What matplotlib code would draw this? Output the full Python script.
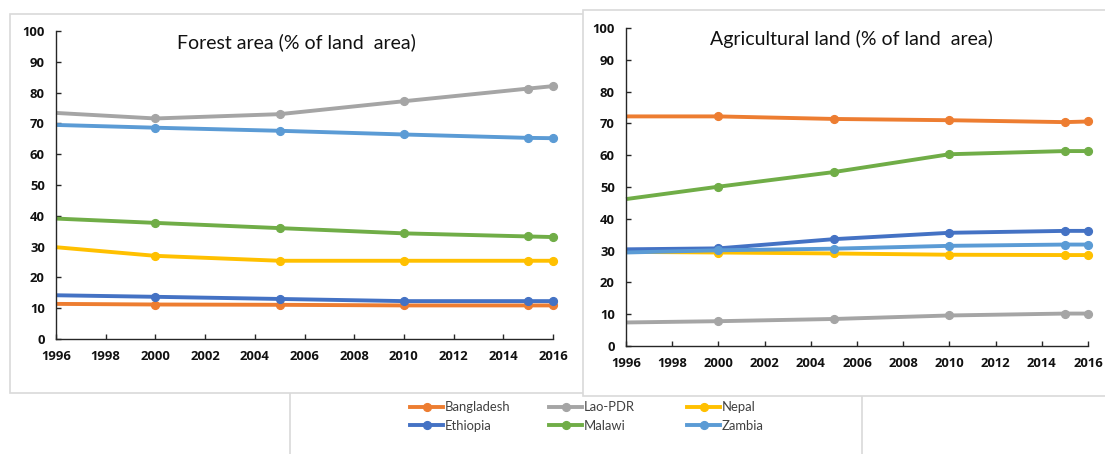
import matplotlib
matplotlib.use("Agg")
import matplotlib.pyplot as plt
from matplotlib.patches import Rectangle
from matplotlib.lines import Line2D

plt.rcParams['font.family'] = ['Lato', 'DejaVu Sans']

years = [1996, 2000, 2005, 2010, 2015, 2016]
countries = ["Bangladesh", "Lao-PDR", "Nepal", "Ethiopia", "Malawi", "Zambia"]
colors = ["#ED7D31", "#A5A5A5", "#FFC000", "#4472C4", "#70AD47", "#5B9BD5"]

forest_bangladesh = [11.4, 11.2, 11.1, 10.9, 10.9, 10.9]
forest_lao = [73.4, 71.6, 73.0, 77.2, 81.3, 82.1]
forest_nepal = [29.8, 27.0, 25.4, 25.4, 25.4, 25.4]
forest_ethiopia = [14.2, 13.7, 13.0, 12.3, 12.3, 12.3]
forest_malawi = [39.1, 37.7, 36.0, 34.3, 33.3, 33.1]
forest_zambia = [69.5, 68.6, 67.6, 66.4, 65.3, 65.2]

agri_bangladesh = [72.2, 72.2, 71.4, 71.0, 70.4, 70.6]
agri_lao = [7.4, 7.8, 8.5, 9.6, 10.2, 10.2]
agri_nepal = [29.6, 29.4, 29.1, 28.7, 28.6, 28.6]
agri_ethiopia = [30.4, 30.7, 33.6, 35.6, 36.2, 36.2]
agri_malawi = [46.2, 50.1, 54.7, 60.3, 61.3, 61.3]
agri_zambia = [29.4, 30.1, 30.6, 31.5, 31.9, 31.9]

forest = [forest_bangladesh, forest_lao, forest_nepal,
          forest_ethiopia, forest_malawi, forest_zambia]
agri = [agri_bangladesh, agri_lao, agri_nepal,
        agri_ethiopia, agri_malawi, agri_zambia]

x_ticks = list(range(1996, 2017, 2))
y_ticks = list(range(0, 101, 10))

W, H = 1105, 454
fig = plt.figure(figsize=(W / 100, H / 100), dpi=100)
fig.patch.set_facecolor("white")

border = "#D9D9D9"

def box(x0, y0, x1, y1, z):
    fig.add_artist(Rectangle((x0 / W, 1 - y1 / H), (x1 - x0) / W, (y1 - y0) / H,
                             transform=fig.transFigure, facecolor="white",
                             edgecolor=border, linewidth=1.2, zorder=z))

# panel frames (legend strip, left chart, right chart)
box(290, 300, 862, 470, 0)
box(10, 14, 640, 393, 1)
box(583, 10, 1120, 396, 2)

tick_font = dict(family=["Open Sans", "DejaVu Sans"], weight="bold", size=9.4)

def panel(rect, series, title, title_x):
    ax = fig.add_axes(rect, zorder=5)
    ax.patch.set_alpha(0)
    for vals, c, name in zip(series, colors, countries):
        ax.plot(years, vals, color=c, lw=2.8, marker="o", ms=5.6,
                markevery=list(range(1, len(years))), clip_on=False,
                solid_capstyle="butt", label=name)
    ax.set_xlim(1996, 2016)
    ax.set_ylim(0, 100)
    ax.set_xticks(x_ticks)
    ax.set_yticks(y_ticks)
    for s in ("top", "right"):
        ax.spines[s].set_visible(False)
    for s in ("left", "bottom"):
        ax.spines[s].set_color("#262626")
        ax.spines[s].set_linewidth(1.0)
    ax.tick_params(axis="both", direction="in", length=3.5, width=1.0,
                   color="#262626", labelcolor="#111111")
    ax.tick_params(axis="y", pad=8)
    ax.tick_params(axis="x", pad=8)
    for lab in ax.get_xticklabels() + ax.get_yticklabels():
        lab.set_fontproperties(tick_font)
    ax.text(title_x, 0.965, title, transform=ax.transAxes, ha="center",
            va="center", fontsize=14, color="#111111")
    return ax

ax1 = panel([56 / W, 1 - 339 / H, (553 - 56) / W, (339 - 31) / H],
            forest, "Forest area (% of land  area)", 0.483)
ax2 = panel([626 / W, 1 - 346 / H, (1088 - 626) / W, (346 - 28) / H],
            agri, "Agricultural land (% of land  area)", 0.488)

# legend: three columns, two rows
cols = [(0, 3, 400), (1, 4, 539), (2, 5, 677)]
for i, j, xpx in cols:
    hs = [Line2D([], [], color=colors[k], lw=2.8, marker="o", ms=5.6)
          for k in (i, j)]
    fig.legend(hs, [countries[i], countries[j]], loc="upper left",
               bbox_to_anchor=(xpx / W, 1 - 391 / H), frameon=False,
               fontsize=9.4, handlelength=2.5, handletextpad=0.15,
               labelspacing=0.5, borderpad=0.3, labelcolor="#404040")

fig.savefig("out.png", dpi=100, facecolor="white")
